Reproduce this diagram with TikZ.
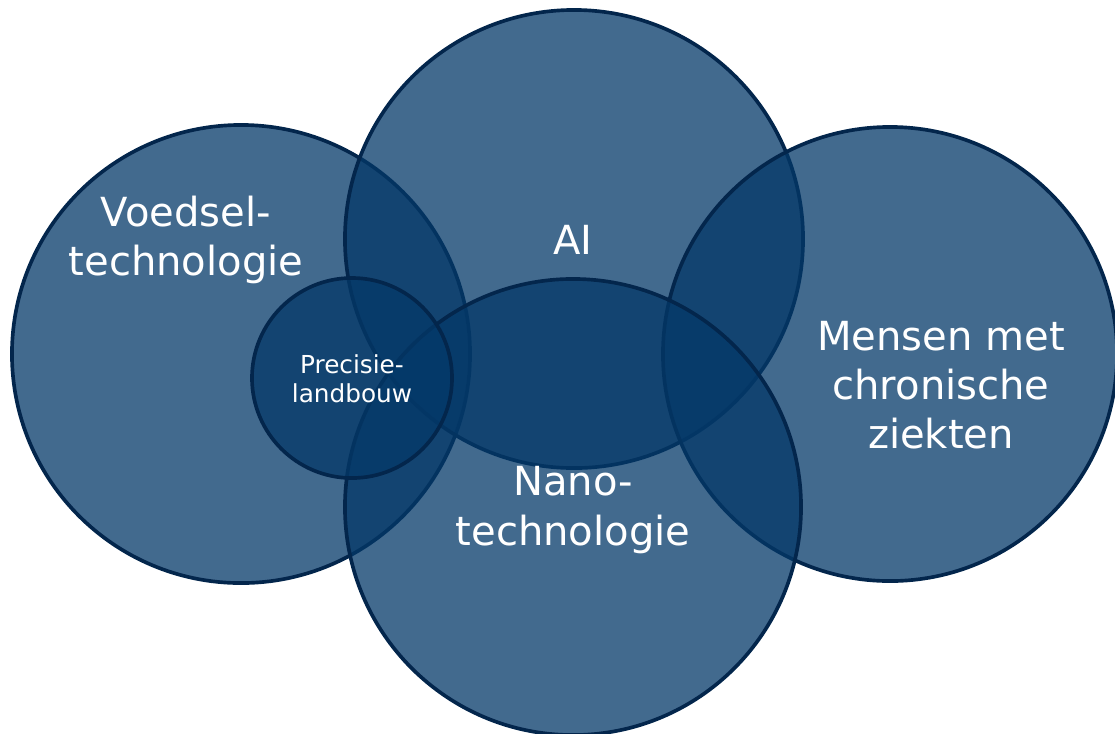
\documentclass[tikz,border=0pt]{standalone}
\usepackage{fontspec}
\setmainfont{DejaVu Sans}
\definecolor{bubblefill}{HTML}{033868}
\definecolor{bubbleline}{HTML}{03264C}
\tikzset{
  bubble/.style={circle, draw=bubbleline, line width=2.6pt, fill=bubblefill, fill opacity=0.75, inner sep=0pt},
  biglabel/.style={text=white, align=center, font=\fontsize{28.5}{35}\selectfont},
  smalllabel/.style={text=white, align=center, font=\fontsize{17.6}{20.5}\selectfont}
}

\begin{document}
\begin{tikzpicture}[x=0.025cm, y=-0.025cm]
    \useasboundingbox (0,0) rectangle (1115,733);
    % Place circles
    \node [bubble, minimum size=11.45cm] (voedsel) at (241,354) {};
    \node [bubble, minimum size=11.45cm] (ai) at (574,239) {};
    \node [bubble, minimum size=11.35cm] (mensen) at (890,354) {};
    \node [bubble, minimum size=11.4cm] (nano) at (573,507) {};
    \node [bubble, minimum size=5cm] (precisie) at (352,378) {};

    % Labels
    \node [biglabel] (voedseltxt) at (186,240) {Voedsel-\\technologie};
    \node [biglabel] (aitxt) at (573,240) {AI};
    \node [biglabel] (mensentxt) at (941,385) {Mensen met\\chronische\\ziekten};
    \node [biglabel] (nanotxt) at (573,510) {Nano-\\technologie};
    \node [smalllabel] (precisietxt) at (352,379) {Precisie-\\landbouw};
\end{tikzpicture}
\end{document}
